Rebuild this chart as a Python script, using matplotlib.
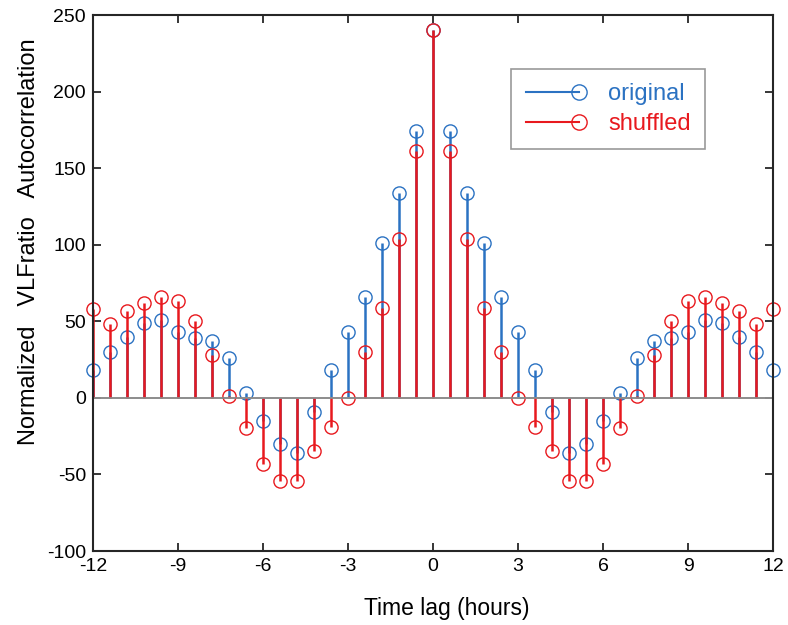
import matplotlib

matplotlib.use("Agg")
import matplotlib.pyplot as plt
import numpy as np
from matplotlib.legend_handler import HandlerBase
from matplotlib.lines import Line2D

plt.rcParams["font.family"] = ["Liberation Sans", "DejaVu Sans"]
plt.rcParams["axes.unicode_minus"] = False

# left half of the lags (-12 .. -0.6 h), the curves are mirrored around 0
lag_left = [-12.0, -11.4, -10.8, -10.2, -9.6, -9.0, -8.4, -7.8, -7.2, -6.6,
            -6.0, -5.4, -4.8, -4.2, -3.6, -3.0, -2.4, -1.8, -1.2, -0.6]
original_left = [18, 30, 40, 49, 51, 43, 39, 37, 26, 3,
                 -15, -30, -36, -9, 18, 43, 66, 101, 134, 174]
shuffled_left = [58, 48, 57, 62, 66, 63, 50, 28, 1, -20,
                 -43, -54, -54, -35, -19, 0, 30, 59, 104, 161]
peak = 240

lags = np.array(lag_left + [0.0] + [-v for v in lag_left[::-1]])
original = np.array(original_left + [peak] + original_left[::-1])
shuffled = np.array(shuffled_left + [peak] + shuffled_left[::-1])

BLUE = "#2b72c2"
RED = "#e8191e"


class StemHandler(HandlerBase):
    # line with the open circle sitting on its right end, like the MATLAB legend
    def create_artists(self, legend, orig_handle, xdescent, ydescent,
                       width, height, fontsize, trans):
        y = height / 2 - ydescent
        c = orig_handle.get_color()
        line = Line2D([-xdescent, width - xdescent], [y, y], color=c,
                      lw=orig_handle.get_linewidth(), transform=trans)
        mark = Line2D([width - xdescent], [y], marker="o", mfc="none", mec=c,
                      ms=orig_handle.get_markersize(), mew=1.0, transform=trans)
        return [line, mark]


fig = plt.figure(figsize=(7.88, 6.25), dpi=100)
ax = fig.add_axes([0.118, 0.1184, 0.863, 0.8576])

for vals, col in [(original, BLUE), (shuffled, RED)]:
    markers, stems, base = ax.stem(lags, vals, linefmt="-", markerfmt="o", basefmt="-")
    stems.set_color(col)
    stems.set_linewidth(1.8)
    markers.set_markerfacecolor("none")
    markers.set_markeredgecolor(col)
    markers.set_markersize(9.5)
    markers.set_markeredgewidth(1.0)
    markers.set_clip_on(False)
    base.set_color("#8c8c8c")
    base.set_linewidth(1.2)

ax.set_xlim(-12, 12)
ax.set_ylim(-100, 250)
ax.set_xticks(np.arange(-12, 13, 3))
ax.set_yticks(np.arange(-100, 251, 50))
ax.tick_params(direction="in", top=True, right=True, labelsize=14,
               length=6, width=1.3, color="#262626", pad=5)
for s in ax.spines.values():
    s.set_linewidth(1.5)
    s.set_color("#262626")

ax.set_xlabel("Time lag (hours)", fontsize=16.5)
ax.xaxis.set_label_coords(0.52, -0.085)
ax.set_ylabel("Normalized   VLFratio   Autocorrelation", fontsize=17)
ax.yaxis.set_label_coords(-0.078, 0.577)

h1 = Line2D([], [], color=BLUE, lw=1.5, ms=11)
h2 = Line2D([], [], color=RED, lw=1.5, ms=11)
leg = ax.legend([h1, h2], ["original", "shuffled"],
                handler_map={Line2D: StemHandler()},
                loc="upper right", bbox_to_anchor=(0.9, 0.9),
                fontsize=17, handlelength=2.25, handletextpad=1.25,
                borderpad=0.6, labelspacing=0.35, borderaxespad=0,
                fancybox=False, edgecolor="#999999", framealpha=1.0)
leg.get_frame().set_linewidth(1.2)
for txt, col in zip(leg.get_texts(), [BLUE, RED]):
    txt.set_color(col)

fig.savefig("out.png", dpi=100)
